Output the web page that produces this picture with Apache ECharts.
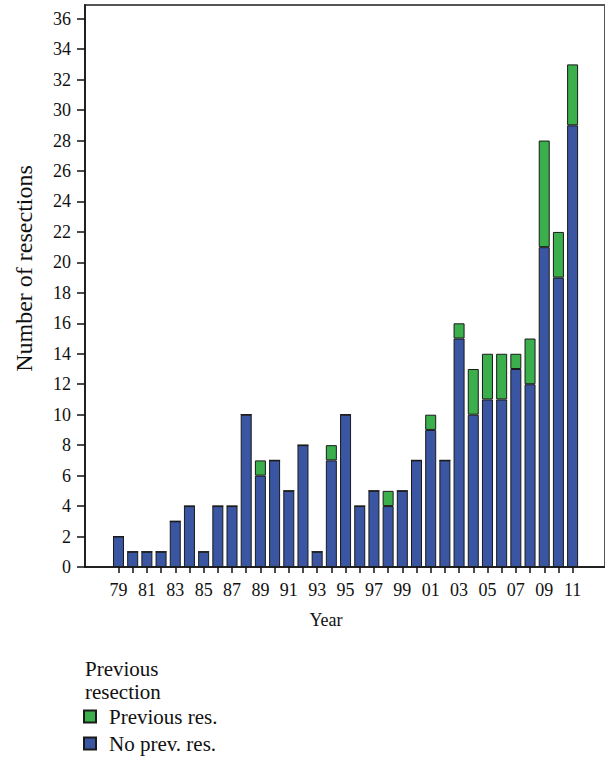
<!DOCTYPE html>
<html>
<head>
<meta charset="utf-8">
<script src="https://cdn.jsdelivr.net/npm/echarts@6/dist/echarts.min.js"></script>
<style>
html,body{margin:0;padding:0;background:#fff;}
#chart{width:605px;height:761px;}
</style>
</head>
<body>
<div id="chart"></div>
<script>
const years = [1979,1980,1981,1982,1983,1984,1985,1986,1987,1988,1989,1990,1991,1992,1993,1994,1995,1996,1997,1998,1999,2000,2001,2002,2003,2004,2005,2006,2007,2008,2009,2010,2011];
const noPrevRes = [2,1,1,1,3,4,1,4,4,10,6,7,5,8,1,7,10,4,5,4,5,7,9,7,15,10,11,11,13,12,21,19,29];
const prevRes   = [0,0,0,0,0,0,0,0,0,0,1,0,0,0,0,1,0,0,0,1,0,0,1,0,1,3,3,3,1,3,7,3,4];
const labelYears = years.filter((y, i) => i % 2 === 0);
const yTicks = [0,2,4,6,8,10,12,14,16,18,20,22,24,26,28,30,32,34,36];

const FONT = 'Liberation Serif';
const Y_MAX = 36.9;
const chart = echarts.init(document.getElementById('chart'), null, {renderer: 'svg'});
chart.setOption({
  animation: false,
  title: {
    text: 'Previous\nresection',
    left: 80, top: 652,
    textStyle: {fontFamily: FONT, fontSize: 21, fontWeight: 'normal', color: '#111', lineHeight: 23}
  },
  legend: {
    orient: 'vertical',
    left: 83, top: 706,
    padding: 0,
    height: 55,
    data: ['Previous res.', 'No prev. res.'],
    icon: 'rect',
    itemWidth: 12, itemHeight: 12,
    itemGap: 6,
    textStyle: {fontFamily: FONT, fontSize: 21, color: '#111', padding: [0,0,0,8]}
  },
  grid: [
    {left: 85, right: 0, top: 5, bottom: 194, show: true, borderColor: '#555', borderWidth: 2},
    {left: 111.4, right: 25.3, top: 5, bottom: 194}
  ],
  xAxis: [
    {
      gridIndex: 0,
      type: 'value',
      min: 1976.64, max: 2013.28,
      name: 'Year',
      nameLocation: 'middle',
      nameGap: 44,
      nameTextStyle: {fontFamily: FONT, fontSize: 18, color: '#111', padding: [0, 38, 0, 0]},
      axisLine: {show: true, lineStyle: {color: '#111', width: 1.5}},
      axisTick: {show: true, length: 6, lineStyle: {color: '#111', width: 1.5}, customValues: years},
      axisLabel: {
        fontFamily: FONT, fontSize: 18, color: '#111', margin: 14,
        customValues: labelYears,
        formatter: v => String(Math.round(v) % 100).padStart(2, '0')
      },
      splitLine: {show: false}
    },
    {
      gridIndex: 1,
      type: 'category',
      data: years,
      show: false
    }
  ],
  yAxis: [
    {
      gridIndex: 0,
      type: 'value',
      min: 0, max: Y_MAX,
      name: 'Number of resections',
      nameLocation: 'middle',
      nameGap: 49,
      nameTextStyle: {fontFamily: FONT, fontSize: 24, color: '#111', padding: [0, 0, 0, 35]},
      axisLine: {show: true, lineStyle: {color: '#111', width: 1.5}},
      axisTick: {show: true, length: 8, lineStyle: {color: '#111', width: 1.5}, customValues: yTicks},
      axisLabel: {fontFamily: FONT, fontSize: 18, color: '#111', margin: 14, customValues: yTicks},
      splitLine: {show: false}
    },
    {
      gridIndex: 1,
      type: 'value',
      min: 0, max: Y_MAX,
      show: false,
      splitLine: {show: false}
    }
  ],
  series: [
    {
      name: 'No prev. res.',
      type: 'bar',
      xAxisIndex: 1, yAxisIndex: 1,
      stack: 'total',
      barWidth: 11,
      data: noPrevRes,
      itemStyle: {color: '#3a55a1', borderColor: '#1a1a1a', borderWidth: 1}
    },
    {
      name: 'Previous res.',
      type: 'bar',
      xAxisIndex: 1, yAxisIndex: 1,
      stack: 'total',
      barWidth: 11,
      data: prevRes,
      itemStyle: {color: '#3aaf4b', borderColor: '#1a1a1a', borderWidth: 1}
    }
  ]
});
</script>
</body>
</html>
